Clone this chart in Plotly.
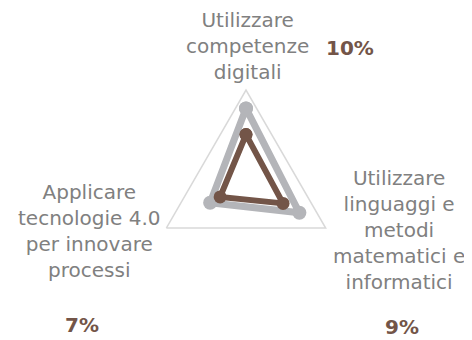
import plotly.graph_objects as go

# categories (clockwise from top)
categories = [
    "Utilizzare competenze digitali",
    "Utilizzare linguaggi e metodi matematici e informatici",
    "Applicare tecnologie 4.0 per innovare processi",
]
label_text = [
    "Utilizzare<br>competenze<br>digitali",
    "Utilizzare<br>linguaggi e<br>metodi<br>matematici e<br>informatici",
    "Applicare<br>tecnologie 4.0<br>per innovare<br>processi",
]
pct_labels = ["10%", "9%", "7%"]

grey_values = [16.0, 13.4, 9.0]
brown_values = [10.3, 9.3, 6.5]
r_max = 20

GREY = "#b4b5b9"
BROWN = "#735548"
LABEL = "#808080"
FONT = "DejaVu Sans"

W, H = 472, 340
OFF = 8  # page body margin


def px(x, y):
    return (x - OFF) / W, 1 - (y - OFF) / H


fig = go.Figure()

for vals, col, lw, ms in [(grey_values, GREY, 7, 14), (brown_values, BROWN, 6, 13)]:
    fig.add_trace(go.Scatterpolar(
        r=vals + vals[:1], theta=categories + categories[:1],
        mode="lines+markers",
        line=dict(color=col, width=lw),
        marker=dict(color=col, size=ms),
        hoverinfo="skip", showlegend=False,
    ))

cx, cy, R = 246, 182, 92
x0, y1 = px(cx - R, cy + R)
x1, y0 = px(cx + R, cy - R)

fig.update_layout(
    width=W, height=H,
    margin=dict(l=0, r=0, t=0, b=0),
    paper_bgcolor="white", plot_bgcolor="white",
    polar=dict(
        domain=dict(x=[x0, x1], y=[y1, y0]),
        gridshape="linear",
        bgcolor="white",
        radialaxis=dict(range=[0, r_max], visible=False, showgrid=False),
        angularaxis=dict(
            categoryorder="array", categoryarray=categories,
            showticklabels=False, rotation=90, direction="clockwise",
            showgrid=False, showline=True, linecolor="#d9d9d9", linewidth=1.5,
            ticks="",
        ),
    ),
)

# category labels
label_pos = [(247, 46), (399, 230), (89, 231)]
for txt, (x, y) in zip(label_text, label_pos):
    ax, ay = px(x, y)
    fig.add_annotation(
        x=ax, y=ay, xref="paper", yref="paper", xanchor="center", yanchor="middle",
        text=txt, showarrow=False, align="center",
        font=dict(family=FONT, size=20, color=LABEL),
    )

# percentage labels
pct_pos = [(350, 48), (402, 327), (82, 325)]
for txt, (x, y) in zip(pct_labels, pct_pos):
    ax, ay = px(x, y)
    fig.add_annotation(
        x=ax, y=ay, xref="paper", yref="paper", xanchor="center", yanchor="middle",
        text="<b>" + txt + "</b>", showarrow=False,
        font=dict(family=FONT, size=20, color=BROWN),
    )

fig.write_html("out.html")
